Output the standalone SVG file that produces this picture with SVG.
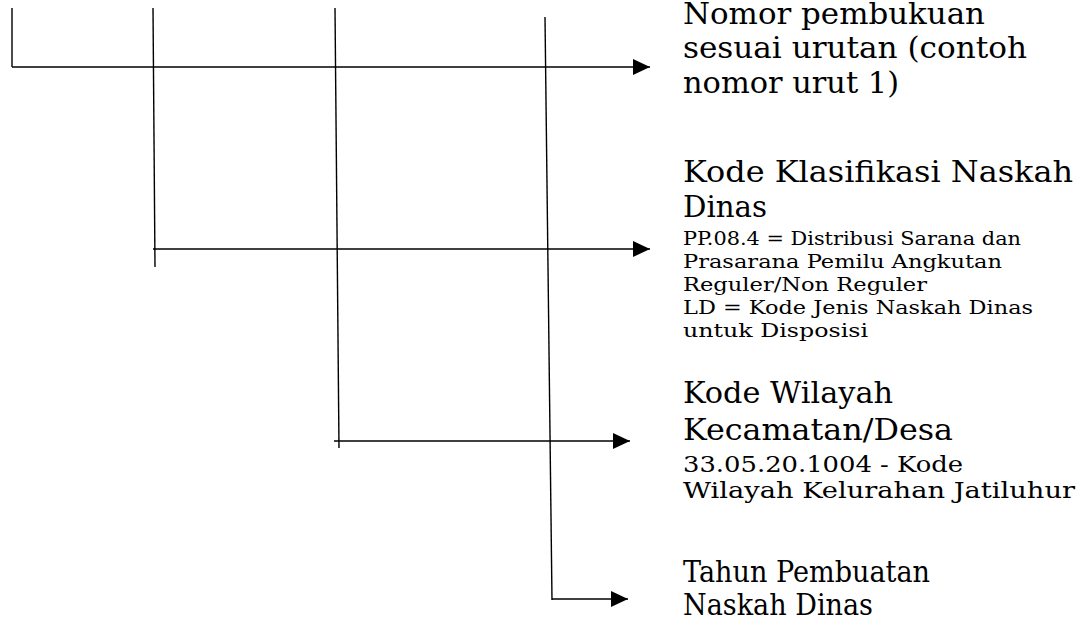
<svg xmlns="http://www.w3.org/2000/svg" width="1083" height="620" viewBox="0 0 1083 620">
<style>
.ln{stroke:#000;stroke-width:1.4;fill:none}
.big{font-family:"DejaVu Serif","Liberation Serif",serif;font-size:29px;fill:#000}
.sm{font-family:"DejaVu Serif","Liberation Serif",serif;font-size:19px;fill:#000}
.md{font-family:"DejaVu Serif","Liberation Serif",serif;font-size:23px;fill:#000}
</style>
<defs>
<marker id="ah" markerUnits="userSpaceOnUse" markerWidth="18" markerHeight="18" refX="17" refY="8" orient="auto">
<polygon points="0,0 17,8 0,16" fill="#000"/>
</marker>
</defs>
<g id="connectors">
<line class="ln" x1="12" y1="8" x2="12" y2="67"/>
<line class="ln" x1="12" y1="67" x2="650" y2="67" marker-end="url(#ah)"/>
<line class="ln" x1="153" y1="8" x2="155" y2="267"/>
<line class="ln" x1="153" y1="249" x2="650" y2="249" marker-end="url(#ah)"/>
<line class="ln" x1="335" y1="8" x2="339" y2="448"/>
<line class="ln" x1="334" y1="441" x2="630" y2="441" marker-end="url(#ah)"/>
<line class="ln" x1="545" y1="17" x2="552" y2="600"/>
<line class="ln" x1="552" y1="599" x2="628" y2="599" marker-end="url(#ah)"/>
</g>
<g id="node1">
<text class="big" x="683" y="24" textLength="302" lengthAdjust="spacingAndGlyphs">Nomor pembukuan</text>
<text class="big" x="683" y="58" textLength="344" lengthAdjust="spacingAndGlyphs">sesuai urutan (contoh</text>
<text class="big" x="683" y="93" textLength="216" lengthAdjust="spacingAndGlyphs">nomor urut 1)</text>
</g>
<g id="node2">
<text class="big" x="683" y="182" textLength="390" lengthAdjust="spacingAndGlyphs">Kode Klasifikasi Naskah</text>
<text class="big" x="683" y="217" textLength="84" lengthAdjust="spacingAndGlyphs">Dinas</text>
<text class="sm" x="683" y="245" textLength="338" lengthAdjust="spacingAndGlyphs">PP.08.4 = Distribusi Sarana dan</text>
<text class="sm" x="683" y="268" textLength="319" lengthAdjust="spacingAndGlyphs">Prasarana Pemilu Angkutan</text>
<text class="sm" x="683" y="291" textLength="244" lengthAdjust="spacingAndGlyphs">Reguler/Non Reguler</text>
<text class="sm" x="683" y="314" textLength="350" lengthAdjust="spacingAndGlyphs">LD = Kode Jenis Naskah Dinas</text>
<text class="sm" x="683" y="337" textLength="185" lengthAdjust="spacingAndGlyphs">untuk Disposisi</text>
</g>
<g id="node3">
<text class="big" x="683" y="403" textLength="210" lengthAdjust="spacingAndGlyphs">Kode Wilayah</text>
<text class="big" x="683" y="440" textLength="270" lengthAdjust="spacingAndGlyphs">Kecamatan/Desa</text>
<text class="md" x="683" y="472" textLength="280" lengthAdjust="spacingAndGlyphs">33.05.20.1004 - Kode</text>
<text class="md" x="683" y="498" textLength="392" lengthAdjust="spacingAndGlyphs">Wilayah Kelurahan Jatiluhur</text>
</g>
<g id="node4">
<text class="big" x="683" y="582" textLength="247" lengthAdjust="spacingAndGlyphs">Tahun Pembuatan</text>
<text class="big" x="683" y="615" textLength="190" lengthAdjust="spacingAndGlyphs">Naskah Dinas</text>
</g>
</svg>
